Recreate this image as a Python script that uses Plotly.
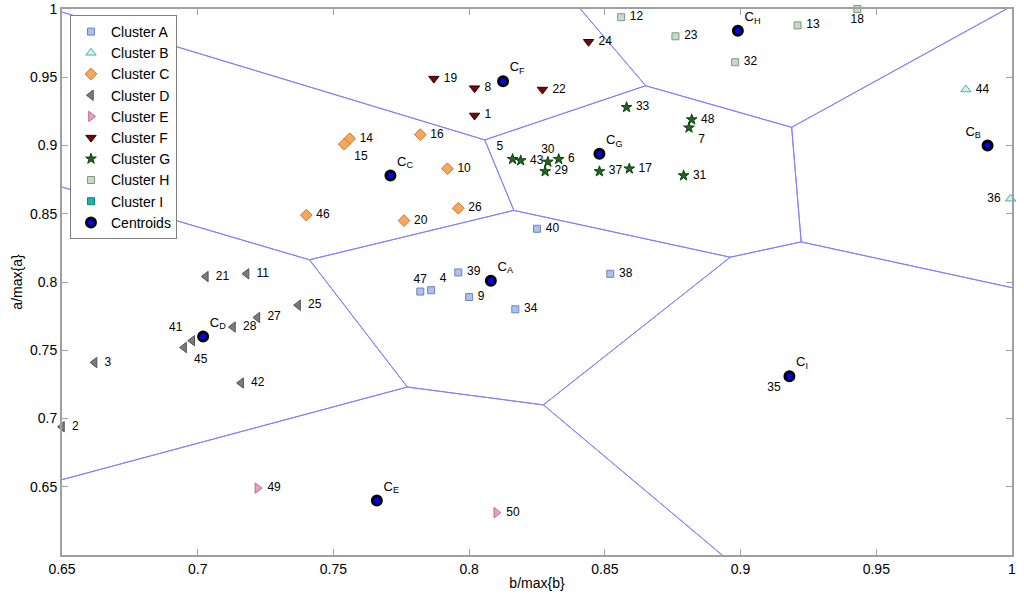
import plotly.graph_objects as go

# cluster members: point ids, b/max{b}, a/max{a}
ids_A = [40, 39, 47, 4, 9, 34, 38]
b_A = [0.825, 0.796, 0.782, 0.786, 0.800, 0.817, 0.852]
a_A = [0.839, 0.807, 0.793, 0.794, 0.789, 0.780, 0.806]

ids_B = [44, 36]
b_B = [0.983, 0.9995]
a_B = [0.941, 0.861]

ids_C = [14, 15, 46, 16, 10, 26, 20]
b_C = [0.756, 0.754, 0.740, 0.782, 0.792, 0.796, 0.776]
a_C = [0.905, 0.901, 0.849, 0.908, 0.883, 0.854, 0.845]

ids_D = [21, 11, 25, 27, 28, 41, 45, 3, 42, 2]
b_D = [0.703, 0.718, 0.737, 0.722, 0.713, 0.698, 0.695, 0.662, 0.716, 0.650]
a_D = [0.804, 0.806, 0.783, 0.774, 0.767, 0.757, 0.752, 0.741, 0.726, 0.694]

ids_E = [49, 50]
b_E = [0.722, 0.810]
a_E = [0.649, 0.631]

ids_F = [24, 19, 8, 22, 1]
b_F = [0.844, 0.787, 0.802, 0.827, 0.802]
a_F = [0.976, 0.949, 0.942, 0.941, 0.922]

ids_G = [33, 48, 7, 5, 43, 30, 6, 29, 37, 17, 31]
b_G = [0.858, 0.882, 0.881, 0.816, 0.819, 0.829, 0.833, 0.828, 0.848, 0.859, 0.879]
a_G = [0.928, 0.919, 0.913, 0.890, 0.889, 0.888, 0.890, 0.881, 0.881, 0.883, 0.878]

ids_H = [12, 23, 13, 18, 32]
b_H = [0.856, 0.876, 0.921, 0.943, 0.898]
a_H = [0.994, 0.980, 0.988, 1.0, 0.961]

ids_I = [35]
b_I = [0.918]
a_I = [0.731]

cent_names = ["A", "B", "C", "D", "E", "F", "G", "H", "I"]
cent_b = [0.808, 0.991, 0.771, 0.702, 0.766, 0.8125, 0.848, 0.899, 0.918]
cent_a = [0.801, 0.900, 0.878, 0.760, 0.640, 0.947, 0.894, 0.984, 0.731]

xticks = [0.65, 0.7, 0.75, 0.8, 0.85, 0.9, 0.95, 1]
yticks = [0.65, 0.7, 0.75, 0.8, 0.85, 0.9, 0.95, 1]

# label placement tweaks (default: middle right)
label_pos = {15: "bottom right", 5: "top left", 30: "top center", 47: "top center",
             4: "top right", 41: "top left", 45: "bottom right", 18: "bottom center",
             36: "middle left", 35: "bottom left", 7: "bottom right"}


# voronoi of centroids by half-plane clipping
def clip(poly, a, b, c):
    out = []
    n = len(poly)
    for k in range(n):
        p, q = poly[k], poly[(k + 1) % n]
        fp = a * p[0] + b * p[1] - c
        fq = a * q[0] + b * q[1] - c
        if fp <= 0:
            out.append(p)
        if (fp < 0 < fq) or (fq < 0 < fp):
            t = fp / (fp - fq)
            out.append((p[0] + t * (q[0] - p[0]), p[1] + t * (q[1] - p[1])))
    return out


lo, hi = 0.0, 2.0
vx, vy = [], []
for i in range(len(cent_b)):
    poly = [(lo, lo), (hi, lo), (hi, hi), (lo, hi)]
    for j in range(len(cent_b)):
        if i == j:
            continue
        a = cent_b[j] - cent_b[i]
        b = cent_a[j] - cent_a[i]
        c = (cent_b[j] ** 2 + cent_a[j] ** 2 - cent_b[i] ** 2 - cent_a[i] ** 2) / 2
        poly = clip(poly, a, b, c)
    for k in range(len(poly)):
        p, q = poly[k], poly[(k + 1) % len(poly)]
        on_box = any(abs(p[d] - e) < 1e-9 and abs(q[d] - e) < 1e-9 for d in (0, 1) for e in (lo, hi))
        if on_box:
            continue
        vx += [p[0], q[0], None]
        vy += [p[1], q[1], None]

fig = go.Figure()
fig.add_trace(go.Scatter(x=vx, y=vy, mode="lines", line=dict(color="#8080ff", width=1),
                         showlegend=False, hoverinfo="skip"))

clusters = [
    ("Cluster A", ids_A, b_A, a_A, "square", "#a9c0f2", "#6f84b0", 7),
    ("Cluster B", ids_B, b_B, a_B, "triangle-up", "#c8f4f4", "#5fa8a8", 9),
    ("Cluster C", ids_C, b_C, a_C, "diamond", "#f7a65a", "#c27a34", 9),
    ("Cluster D", ids_D, b_D, a_D, "triangle-left", "#7a7a7a", "#555555", 9),
    ("Cluster E", ids_E, b_E, a_E, "triangle-right", "#f59ac4", "#b86890", 9),
    ("Cluster F", ids_F, b_F, a_F, "triangle-down", "#6e0a0a", "#3a0000", 9),
    ("Cluster G", ids_G, b_G, a_G, "star", "#1f661f", "#0f400f", 8),
    ("Cluster H", ids_H, b_H, a_H, "square", "#c6dcc6", "#809880", 7),
    ("Cluster I", ids_I, b_I, a_I, "square", "#19b5b5", "#0d7f7f", 7),
]
for name, ids, bx, ay, sym, fill, edge, size in clusters:
    pos = [label_pos.get(i, "middle right") for i in ids]
    fig.add_trace(go.Scatter(
        x=bx, y=ay, mode="markers+text", name=name,
        text=[(" " + str(i)) if "right" in p else (str(i) + " " if "left" in p else str(i))
              for i, p in zip(ids, pos)],
        textposition=pos,
        textfont=dict(size=12, color="black"),
        marker=dict(symbol=sym, size=size, color=fill, line=dict(color=edge, width=1)),
        cliponaxis=False,
    ))

fig.add_trace(go.Scatter(
    x=cent_b, y=cent_a, mode="markers+text", name="Centroids",
    text=["C<sub>" + c + "</sub>" for c in cent_names],
    textposition=["top left" if c == "B" else "top right" for c in cent_names],
    textfont=dict(size=13, color="black"),
    marker=dict(symbol="circle", size=9, color="#0000ff", line=dict(color="black", width=3)),
    cliponaxis=False,
))

axis_style = dict(showgrid=False, zeroline=False, showline=True, linecolor="#a0a0a0",
                  linewidth=2, mirror="ticks", ticks="inside", ticklen=6, tickcolor="#a0a0a0",
                  tickfont=dict(size=14, color="black"), automargin=False)
fig.update_xaxes(range=[0.65, 1.0], tickvals=xticks, ticktext=[f"{v:g}" for v in xticks],
                 title=dict(text="b/max{b}", font=dict(size=14), standoff=2), **axis_style)
fig.update_yaxes(range=[0.6, 1.0], tickvals=yticks, ticktext=[f"{v:g}" for v in yticks],
                 title=dict(text="a/max{a}", font=dict(size=14), standoff=4), **axis_style)

fig.update_layout(
    width=1024, height=595,
    margin=dict(l=62, r=12, t=9, b=40),
    paper_bgcolor="white", plot_bgcolor="white",
    font=dict(family="Arial, Liberation Sans, sans-serif", color="black"),
    legend=dict(x=0.0084, y=0.989, xanchor="left", yanchor="top", bgcolor="white",
                bordercolor="#808080", borderwidth=1, font=dict(size=14),
                tracegroupgap=0, itemwidth=30),
)
# drop the default page margin so the figure sits at the window's corner
fig.write_html("out.html", config={"displayModeBar": False},
               post_script="document.body.style.margin='0';")
